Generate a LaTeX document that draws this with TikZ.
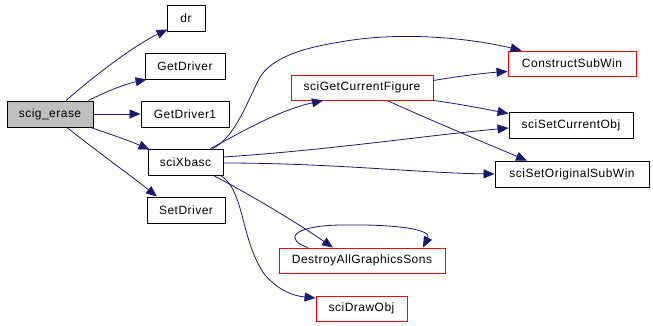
\documentclass[tikz,border=0pt]{standalone}
\usepackage{fontspec}
\setmainfont{Liberation Sans}[LetterSpace=4]
\usetikzlibrary{arrows.meta}
\definecolor{edgec}{RGB}{25,25,112}
\definecolor{rootfill}{RGB}{191,191,191}
\tikzset{
  fn/.style={draw=black, line width=0.9pt, rectangle, inner sep=0pt, font=\fontsize{12}{14}\selectfont, text=black},
  fnred/.style={fn, draw=red},
  edge/.style={draw=edgec, line width=0.8pt, -{Triangle[length=11pt,width=9pt]}}
}
\begin{document}
\begin{tikzpicture}[x=1pt,y=-1pt]
\useasboundingbox (0,0) rectangle (653,325);
% nodes
\node[fn, fill=rootfill, minimum width=86pt, minimum height=26pt] (e) at (50,114) {scig\_erase};
\node[fn, minimum width=38pt, minimum height=26pt] (d) at (186,18) {dr};
\node[fn, minimum width=80pt, minimum height=26pt] (gd) at (185,66) {GetDriver};
\node[fn, minimum width=88pt, minimum height=26pt] (gd1) at (185,114) {GetDriver1};
\node[fn, minimum width=75pt, minimum height=26pt] (x) at (185.5,162) {sciXbasc};
\node[fn, minimum width=78pt, minimum height=26pt] (sd) at (186,210) {SetDriver};
\node[fnred, minimum width=166pt, minimum height=25pt] (das) at (362,260.5) {DestroyAllGraphicsSons};
\node[fnred, minimum width=91pt, minimum height=25pt] (dobj) at (361.5,308.5) {sciDrawObj};
\node[fnred, minimum width=142pt, minimum height=25pt] (gcf) at (362,87.5) {sciGetCurrentFigure};
\node[fnred, minimum width=128pt, minimum height=25pt] (csw) at (572,63.5) {ConstructSubWin};
\node[fn, minimum width=124pt, minimum height=26pt] (sco) at (571,125) {sciSetCurrentObj};
\node[fn, minimum width=154pt, minimum height=26pt] (sos) at (572,174) {sciSetOriginalSubWin};
% edges from scig_erase
\draw[edge] ([xshift=16pt]e.north) .. controls (95,75) and (135,45) .. ([xshift=1pt,yshift=2pt]d.south west);
\draw[edge] ([xshift=-5pt]e.north east) .. controls (105,92) and (125,84) .. ([xshift=2pt]gd.south west);
\draw[edge] (e.east) -- (gd1.west);
\draw[edge] ([xshift=-3pt]e.south east) .. controls (110,134) and (130,141) .. ([xshift=2pt,yshift=-1pt]x.north west);
\draw[edge] ([xshift=17pt]e.south) .. controls (95,150) and (130,175) .. ([xshift=-29pt]sd.north);
% edges from sciXbasc
\draw[edge] ([xshift=25pt]x.north) .. controls (245,130) and (280,110) .. ([xshift=-39pt]gcf.south);
\draw[edge] ([xshift=27pt]x.north) .. controls (235,138) and (248,100) .. (260,77)
  .. controls (270,62) and (290,50) .. (340,42)
  .. controls (400,31) and (470,38) .. ([xshift=14pt]csw.north west);
\draw[edge] ([yshift=5pt]x.east) .. controls (330,150) and (430,135) .. ([yshift=-3pt]sco.west);
\draw[edge] ([yshift=-1pt]x.east) .. controls (330,163) and (420,173) .. (sos.west);
\draw[edge] ([xshift=28pt]x.south) .. controls (260,200) and (300,225) .. ([xshift=-29pt]das.north);
\draw[edge] ([xshift=35pt]x.south) .. controls (245,190) and (240,240) .. (265,275)
  .. controls (280,292) and (295,296) .. (dobj.west |- 0,298);
% self loop
\draw[edge] ([xshift=-54pt]das.north) .. controls (285,240) and (290,226) .. (340,225)
  .. controls (400,224) and (432,230) .. ([xshift=61pt]das.north);
% edges from sciGetCurrentFigure
\draw[edge] ([yshift=7pt]gcf.east) .. controls (460,76) and (485,73) .. ([yshift=-8pt]csw.west);
\draw[edge] (gcf.south east) .. controls (460,104) and (490,110) .. ([yshift=-2pt]sco.north west);
\draw[edge] ([xshift=25pt]gcf.south) .. controls (430,120) and (490,145) .. ([xshift=-45pt]sos.north);
\end{tikzpicture}
\end{document}
